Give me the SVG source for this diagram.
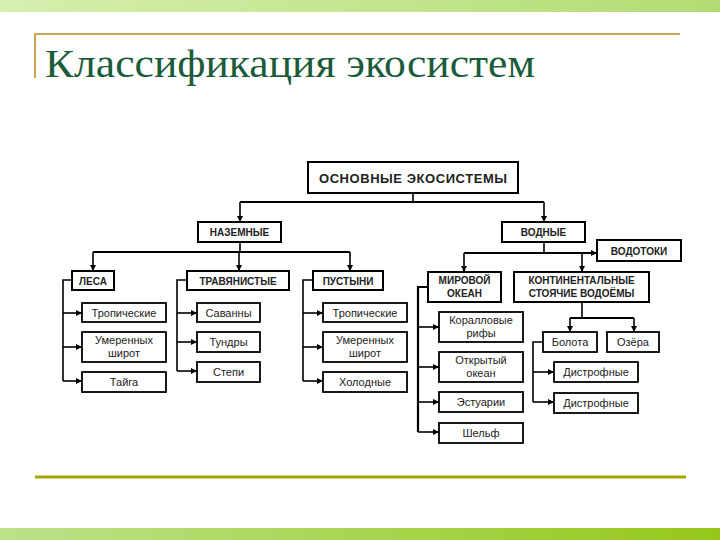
<svg xmlns="http://www.w3.org/2000/svg" width="720" height="540" viewBox="0 0 720 540">
<defs>
<linearGradient id="gTop" x1="0" y1="0" x2="1" y2="0">
<stop offset="0" stop-color="#d6efae"/><stop offset="1" stop-color="#b2dc72"/>
</linearGradient>
<linearGradient id="gBot" x1="0" y1="0" x2="1" y2="0">
<stop offset="0" stop-color="#bce28a"/><stop offset="1" stop-color="#96c71a"/>
</linearGradient>
<marker id="arr" viewBox="0 0 6 6" refX="6" refY="3" markerWidth="6" markerHeight="6" markerUnits="userSpaceOnUse" orient="auto">
<path d="M0,0 L6,3 L0,6 z" fill="#000"/>
</marker>
<style>
.box{fill:#fff;stroke:#000;stroke-width:2}
.leaf{fill:#fff;stroke:#000;stroke-width:1.8}
.up{font-family:"Liberation Sans",Arial,sans-serif;font-size:10px;font-weight:bold;fill:#222;text-anchor:middle}
.rt{font-family:"Liberation Sans",Arial,sans-serif;font-size:13px;font-weight:bold;fill:#222;text-anchor:middle}
.lf{font-family:"Liberation Sans",Arial,sans-serif;font-size:11px;fill:#222;text-anchor:middle}
.c{fill:none;stroke:#000;stroke-width:1.6}
.t{fill:none;stroke:#000;stroke-width:2.2}
.a{marker-end:url(#arr)}
</style>
</defs>
<rect width="720" height="540" fill="#fff"/>
<rect x="0" y="0" width="720" height="12" fill="url(#gTop)"/>
<rect x="0" y="528" width="720" height="12" fill="url(#gBot)"/>
<path d="M35,78 V34 H680" fill="none" stroke="#c9a452" stroke-width="2"/>
<line x1="35" y1="477" x2="686" y2="477" stroke="#a3a800" stroke-width="3"/>
<text x="45" y="77" font-family="Liberation Serif,serif" font-size="40" fill="#1a5c3a" textLength="490" lengthAdjust="spacingAndGlyphs">Классификация экосистем</text>

<g id="connectors">
<path class="c" d="M413,193 V202"/>
<path class="t" d="M240,202 H544"/>
<path class="c a" d="M240,202 V222"/>
<path class="c a" d="M544,202 V222"/>
<path class="c" d="M240,242 V252"/>
<path class="t" d="M93,252 H350"/>
<path class="c a" d="M93,252 V271"/>
<path class="c a" d="M239,252 V271"/>
<path class="c a" d="M350,252 V271"/>
<path class="c" d="M72,280 H63 V381"/>
<path class="c a" d="M63,313 H82"/>
<path class="c a" d="M63,347 H82"/>
<path class="c a" d="M63,381 H82"/>
<path class="c" d="M187,280 H177 V371"/>
<path class="c a" d="M177,313 H197"/>
<path class="c a" d="M177,342 H197"/>
<path class="c a" d="M177,371 H197"/>
<path class="c" d="M313,280 H303 V381"/>
<path class="c a" d="M303,313 H323"/>
<path class="c a" d="M303,347 H323"/>
<path class="c a" d="M303,381 H323"/>
<path class="c" d="M544,242 V253"/>
<path class="t a" d="M464,253 H597"/>
<path class="c a" d="M464,253 V272"/>
<path class="c a" d="M582,253 V272"/>
<path class="t" d="M428,287 H418 V432"/>
<path class="c a" d="M418,327 H439"/>
<path class="c a" d="M418,367 H439"/>
<path class="c a" d="M418,402 H439"/>
<path class="c a" d="M418,432 H439"/>
<path class="c" d="M582,302 V318"/>
<path class="t" d="M570,318 H634"/>
<path class="c a" d="M570,318 V332"/>
<path class="c a" d="M634,318 V332"/>
<path class="c" d="M543,342 H533 V402"/>
<path class="c a" d="M533,372 H554"/>
<path class="c a" d="M533,402 H554"/>
</g>

<g id="root"><rect class="box" x="308" y="162" width="210" height="31"/><text class="rt" x="413" y="182.5" textLength="188" lengthAdjust="spacing">ОСНОВНЫЕ ЭКОСИСТЕМЫ</text></g>
<g id="nazemnye"><rect class="box" x="198" y="222" width="83" height="20"/><text class="up" x="239.5" y="236">НАЗЕМНЫЕ</text></g>
<g id="vodnye"><rect class="box" x="502" y="222" width="83" height="20"/><text class="up" x="543.5" y="236">ВОДНЫЕ</text></g>
<g id="vodotoki"><rect class="box" x="597" y="240" width="84" height="21"/><text class="up" x="639" y="255">ВОДОТОКИ</text></g>
<g id="lesa"><rect class="box" x="72" y="271" width="42" height="19"/><text class="up" x="93" y="284.5">ЛЕСА</text></g>
<g id="travyanistye"><rect class="box" x="187" y="271" width="102" height="19"/><text class="up" x="238" y="284.5">ТРАВЯНИСТЫЕ</text></g>
<g id="pustyni"><rect class="box" x="313" y="271" width="70" height="19"/><text class="up" x="348" y="284.5">ПУСТЫНИ</text></g>
<g id="mirovoy-okean"><rect class="box" x="428" y="272" width="73" height="30"/><text class="up" x="464.5" y="284">МИРОВОЙ</text><text class="up" x="464.5" y="297">ОКЕАН</text></g>
<g id="kontinentalnye"><rect class="box" x="514" y="272" width="135" height="30"/><text class="up" x="581.5" y="284">КОНТИНЕНТАЛЬНЫЕ</text><text class="up" x="581.5" y="297">СТОЯЧИЕ ВОДОЁМЫ</text></g>

<g id="les-trop"><rect class="leaf" x="82" y="303" width="84" height="19"/><text class="lf" x="124" y="316.5">Тропические</text></g>
<g id="les-umer"><rect class="leaf" x="82" y="332" width="84" height="30"/><text class="lf" x="124" y="344">Умеренных</text><text class="lf" x="124" y="357">широт</text></g>
<g id="les-tayga"><rect class="leaf" x="82" y="372" width="84" height="20"/><text class="lf" x="124" y="386">Тайга</text></g>
<g id="savanny"><rect class="leaf" x="197" y="303" width="63" height="19"/><text class="lf" x="228.5" y="316.5">Саванны</text></g>
<g id="tundry"><rect class="leaf" x="197" y="332" width="63" height="20"/><text class="lf" x="228.5" y="346">Тундры</text></g>
<g id="stepi"><rect class="leaf" x="197" y="362" width="63" height="20"/><text class="lf" x="228.5" y="376">Степи</text></g>
<g id="pust-trop"><rect class="leaf" x="323" y="303" width="84" height="19"/><text class="lf" x="365" y="316.5">Тропические</text></g>
<g id="pust-umer"><rect class="leaf" x="323" y="332" width="84" height="30"/><text class="lf" x="365" y="344">Умеренных</text><text class="lf" x="365" y="357">широт</text></g>
<g id="holodnye"><rect class="leaf" x="323" y="372" width="84" height="20"/><text class="lf" x="365" y="386">Холодные</text></g>
<g id="korall"><rect class="leaf" x="439" y="312" width="84" height="30"/><text class="lf" x="481" y="324">Коралловые</text><text class="lf" x="481" y="337">рифы</text></g>
<g id="otkryty"><rect class="leaf" x="439" y="352" width="84" height="30"/><text class="lf" x="481" y="364">Открытый</text><text class="lf" x="481" y="377">океан</text></g>
<g id="estuarii"><rect class="leaf" x="439" y="392" width="84" height="20"/><text class="lf" x="481" y="406">Эстуарии</text></g>
<g id="shelf"><rect class="leaf" x="439" y="423" width="84" height="20"/><text class="lf" x="481" y="437">Шельф</text></g>
<g id="bolota"><rect class="leaf" x="543" y="332" width="54" height="20"/><text class="lf" x="570" y="346">Болота</text></g>
<g id="ozera"><rect class="leaf" x="607" y="332" width="52" height="20"/><text class="lf" x="633" y="346">Озёра</text></g>
<g id="distrof1"><rect class="leaf" x="554" y="362" width="84" height="20"/><text class="lf" x="596" y="376">Дистрофные</text></g>
<g id="distrof2"><rect class="leaf" x="554" y="393" width="84" height="20"/><text class="lf" x="596" y="407">Дистрофные</text></g>
</svg>
